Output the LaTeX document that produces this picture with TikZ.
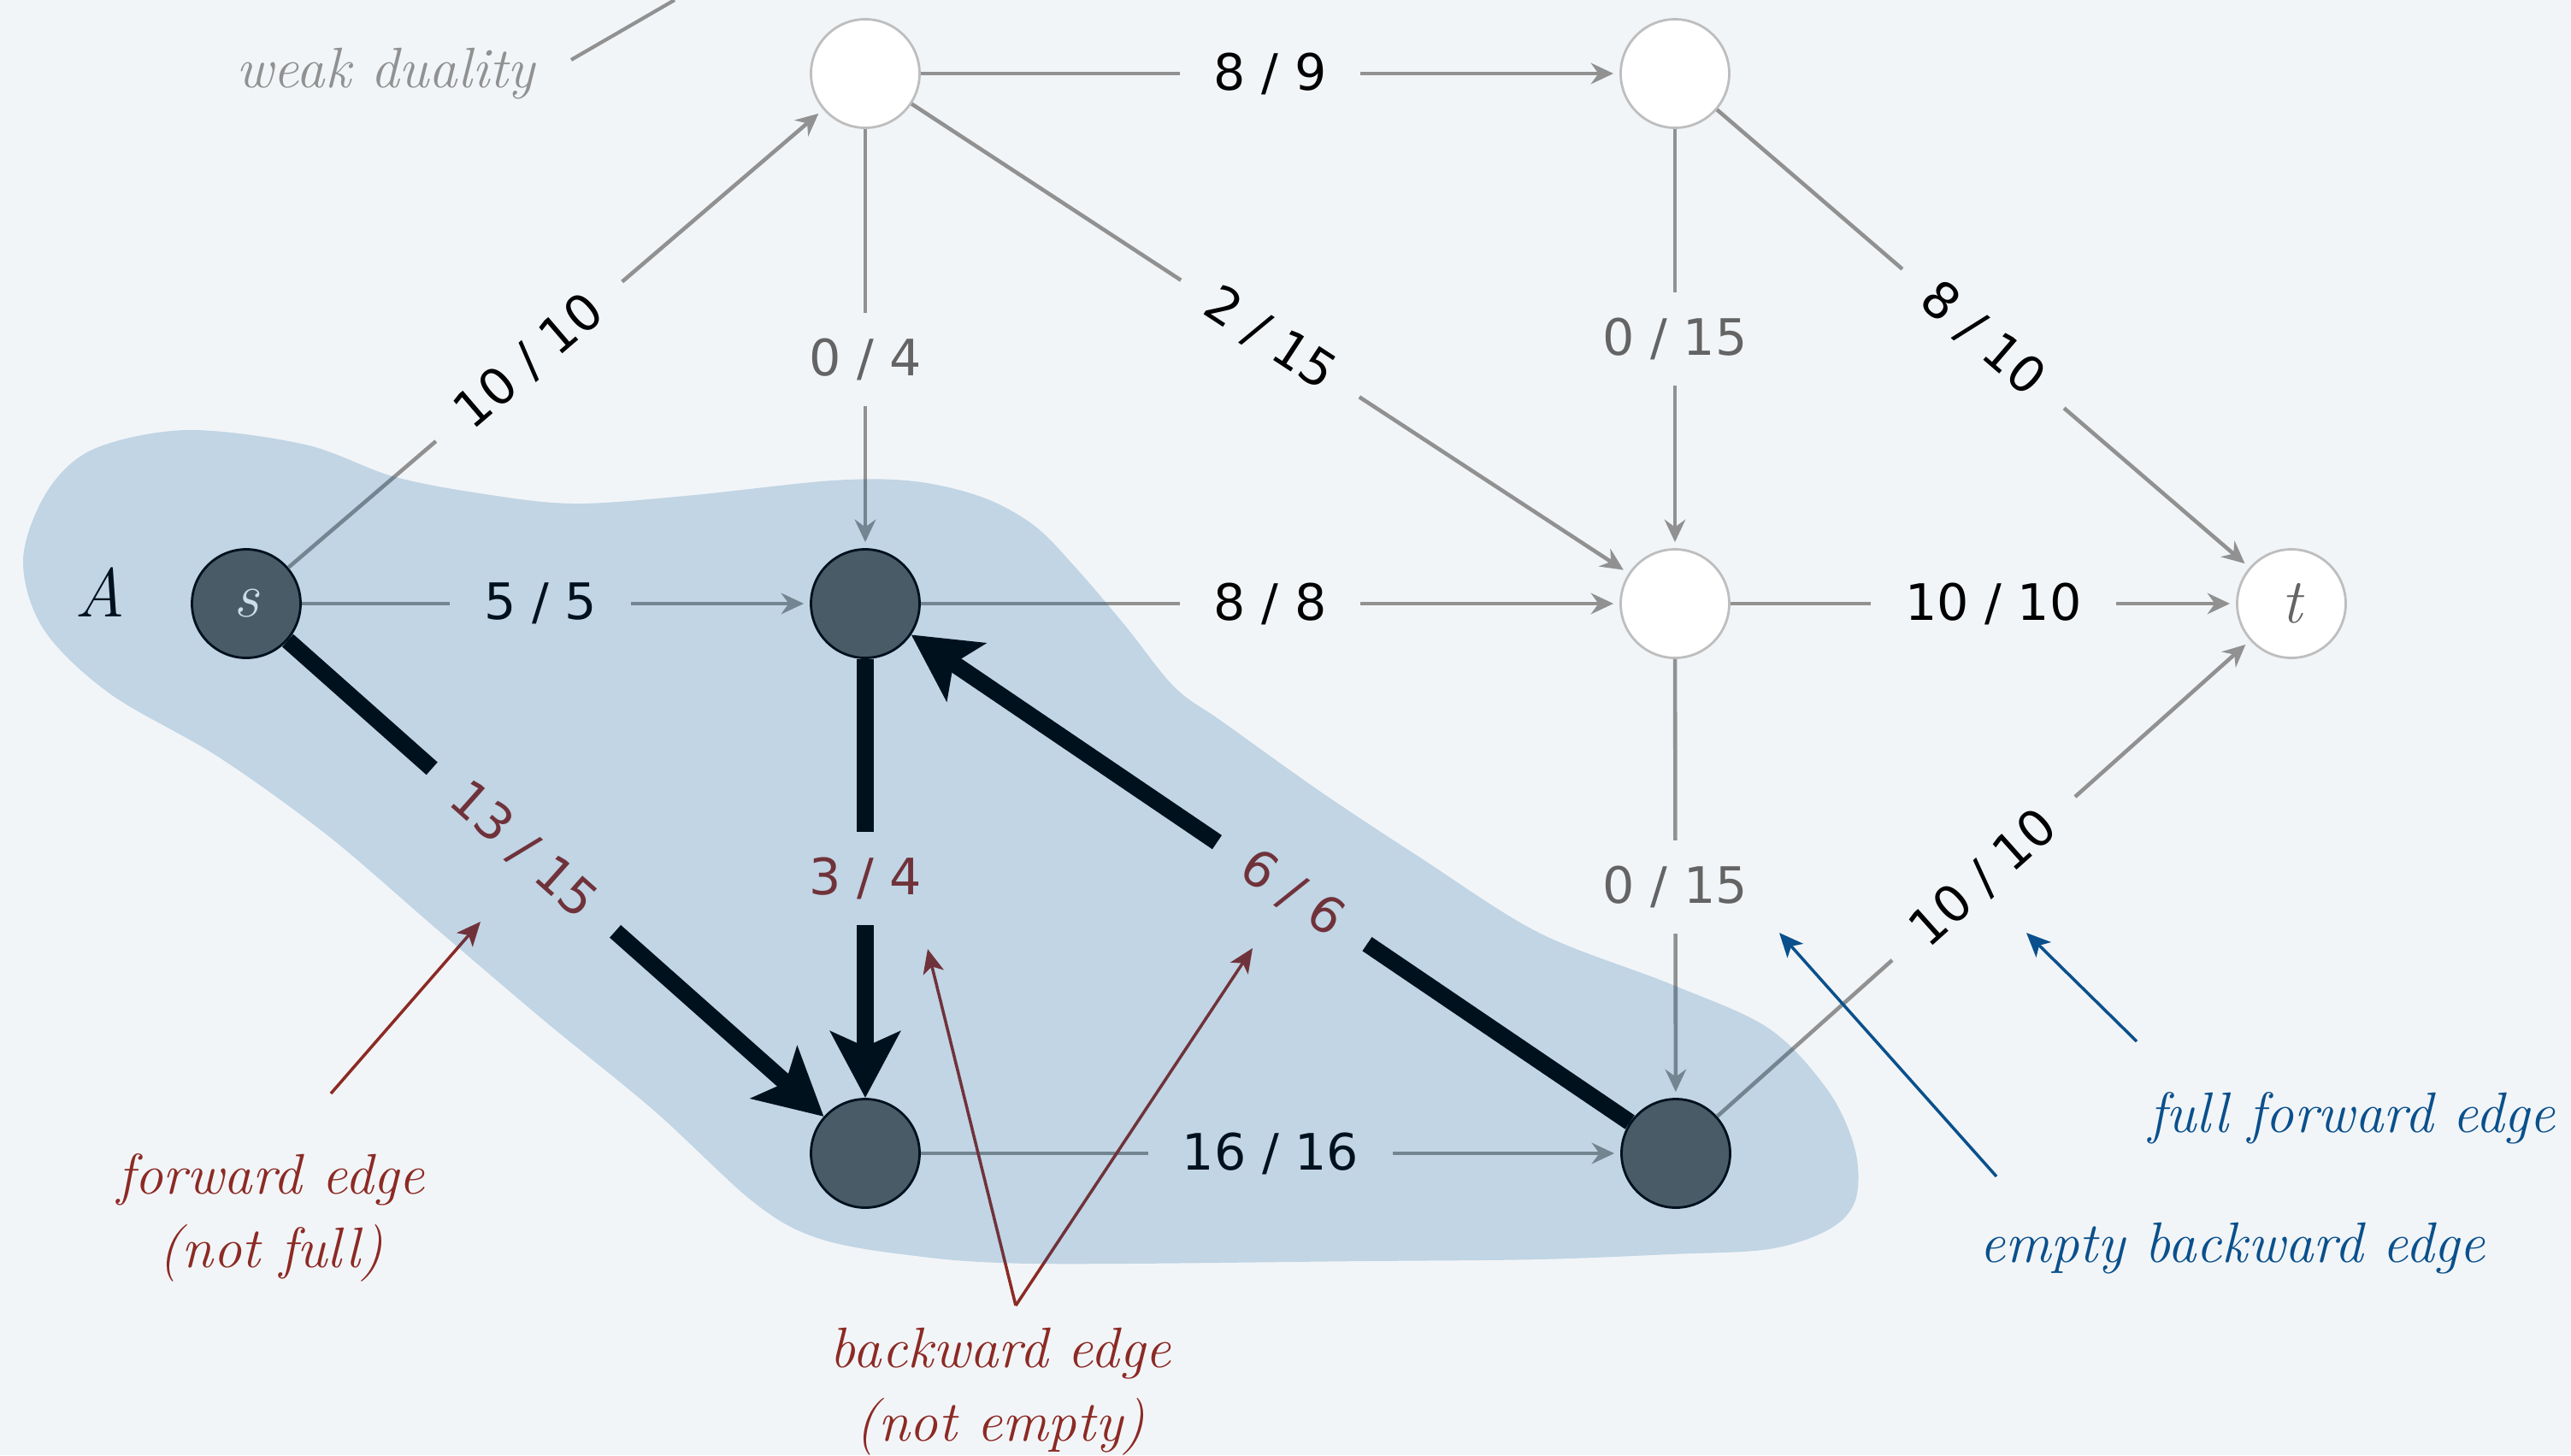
\documentclass[tikz,border=0pt]{standalone}
\usepackage{fontspec}
\usetikzlibrary{arrows.meta}
\newfontfamily\numfont{DejaVu Sans}
\definecolor{bgcol}{RGB}{242,245,248}
\definecolor{blobcol}{RGB}{0,85,150}
\definecolor{edgegray}{RGB}{145,145,145}
\definecolor{nodegray}{RGB}{93,93,93}
\definecolor{ringgray}{RGB}{190,190,190}
\definecolor{labgray}{RGB}{100,100,100}
\definecolor{fwdred}{RGB}{140,42,36}
\definecolor{bwdblue}{RGB}{10,80,140}
\tikzset{
  vtx/.style={circle, draw=ringgray, fill=white, line width=0.8pt, minimum size=1.27cm, inner sep=0pt, font={\itshape\fontsize{21}{24}\selectfont}},
  cutv/.style={vtx, draw=black, fill=nodegray},
  flow/.style={draw=edgegray, line width=1.3pt, -{Stealth[length=7.5pt,width=7pt,inset=2.5pt]}, shorten >=2pt},
  heavy/.style={draw=black, line width=5.6pt, -{Stealth[length=22pt,width=23pt,inset=5pt]}},
  lbl/.style={fill=bgcol, inner xsep=0.4cm, inner ysep=0.3cm, font={\numfont\fontsize{16.7}{20}\selectfont}},
  note/.style={font={\itshape\fontsize{19}{24.5}\selectfont}, align=center},
  pointer/.style={line width=1pt, -{Stealth[length=8pt,width=7pt,inset=2pt]}}
}
\begin{document}
\begin{tikzpicture}[x=1cm, y=-1cm]
                \useasboundingbox (0,0) rectangle (30.07,17.02);
                \fill[bgcol] (0,0) rectangle (30.07,17.02);

                \node[cutv, text=white] (s) at (2.88,7.06) {s};
                \node[vtx] (u1) at (10.12,0.86) {};
                \node[vtx] (u2) at (19.59,0.86) {};
                \node[cutv] (v1) at (10.12,7.06) {};
                \node[vtx] (v2) at (19.59,7.06) {};
                \node[vtx, text=labgray] (t) at (26.80,7.06) {t};
                \node[cutv] (w1) at (10.12,13.49) {};
                \node[cutv] (w2) at (19.60,13.49) {};

                \draw[flow] (s) -- node[lbl, sloped, pos=.45] {10 / 10} (u1);
                \draw[flow] (s) -- node[lbl, pos=.47] {5 / 5} (v1);
                \draw[heavy] (s) -- node[lbl, sloped, pos=.44, text=fwdred] {13 / 15} (w1);
                \draw[flow] (u1) -- node[lbl] {8 / 9} (u2);
                \draw[flow] (u1) -- node[lbl, pos=.55, text=labgray] {0 / 4} (v1);
                \draw[flow] (u1) -- node[lbl, sloped] {2 / 15} (v2);
                \draw[flow] (u2) -- node[lbl, text=labgray] {0 / 15} (v2);
                \draw[flow] (u2) -- node[lbl, sloped] {8 / 10} (t);
                \draw[flow] (v1) -- node[lbl] {8 / 8} (v2);
                \draw[flow] (v2) -- node[lbl, pos=.52] {10 / 10} (t);
                \draw[heavy] (v1) -- node[lbl, text=fwdred] {3 / 4} (w1);
                \draw[heavy] (w2) -- node[lbl, sloped, pos=.47, text=fwdred] {6 / 6} (v1);
                \draw[flow] (v2) -- node[lbl, pos=.52, text=labgray] {0 / 15} (w2);
                \draw[flow] (w2) -- node[lbl, sloped] {10 / 10} (t);
                \draw[flow] (w1) -- node[lbl] {16 / 16} (w2);

                \node[font={\itshape\fontsize{23}{26}\selectfont}] (cutA) at (1.17,6.93) {A};
                \node[note, text=edgegray] (weak) at (4.51,0.86) {weak duality};
                \coordinate (weakfrom) at (6.68,0.70);
                \coordinate (weakto) at (7.89,0);
                \draw[edgegray, line width=1.2pt] (weakfrom) -- (weakto);

                \node[note, text=fwdred] (fwdnote) at (3.17,14.24) {forward edge\\(not full)};
                \coordinate (fwdfrom) at (3.87,12.79);
                \coordinate (fwdtip) at (5.62,10.78);
                \draw[pointer, fwdred] (fwdfrom) -- (fwdtip);

                \node[note, text=fwdred] (bwdnote) at (11.70,16.28) {backward edge\\(not empty)};
                \coordinate (bwdfrom) at (11.88,15.27);
                \coordinate (bwdtipa) at (10.85,11.10);
                \coordinate (bwdtipb) at (14.65,11.09);
                \draw[pointer, fwdred] (bwdfrom) -- (bwdtipa);
                \draw[pointer, fwdred] (bwdfrom) -- (bwdtipb);

                \node[note, text=bwdblue] (fullnote) at (27.51,13.08) {full forward edge};
                \coordinate (fullfrom) at (24.99,12.18);
                \coordinate (fulltip) at (23.70,10.91);
                \draw[pointer, bwdblue] (fullfrom) -- (fulltip);

                \node[note, text=bwdblue] (emptynote) at (26.11,14.60) {empty backward edge};
                \coordinate (emptyfrom) at (23.35,13.76);
                \coordinate (emptytip) at (20.81,10.91);
                \draw[pointer, bwdblue] (emptyfrom) -- (emptytip);

                \fill[blobcol, fill opacity=0.2] plot[smooth cycle, tension=0.55] coordinates {
                    (0.27,6.55) (0.55,5.75) (1.10,5.25) (2.19,5.03) (3.57,5.20) (4.59,5.57)
                    (5.61,5.77) (6.70,5.89) (8.02,5.80) (9.74,5.62) (10.70,5.63) (11.50,5.82)
                    (12.10,6.15) (12.60,6.66) (13.17,7.33) (13.74,8.04) (14.31,8.45) (15.46,9.27)
                    (16.61,10.03) (18.00,10.91) (19.54,11.51) (20.69,12.03) (21.39,12.77) (21.70,13.46)
                    (21.70,14.04) (21.39,14.38) (20.69,14.61) (19.54,14.67) (18.00,14.73) (16.00,14.75)
                    (12.08,14.78) (10.55,14.67) (9.53,14.47) (8.80,14.05) (7.65,12.99) (6.38,11.95)
                    (5.10,10.86) (3.83,9.77) (2.55,8.85) (1.28,8.11) (0.51,7.36)};
            \end{tikzpicture}
\end{document}
